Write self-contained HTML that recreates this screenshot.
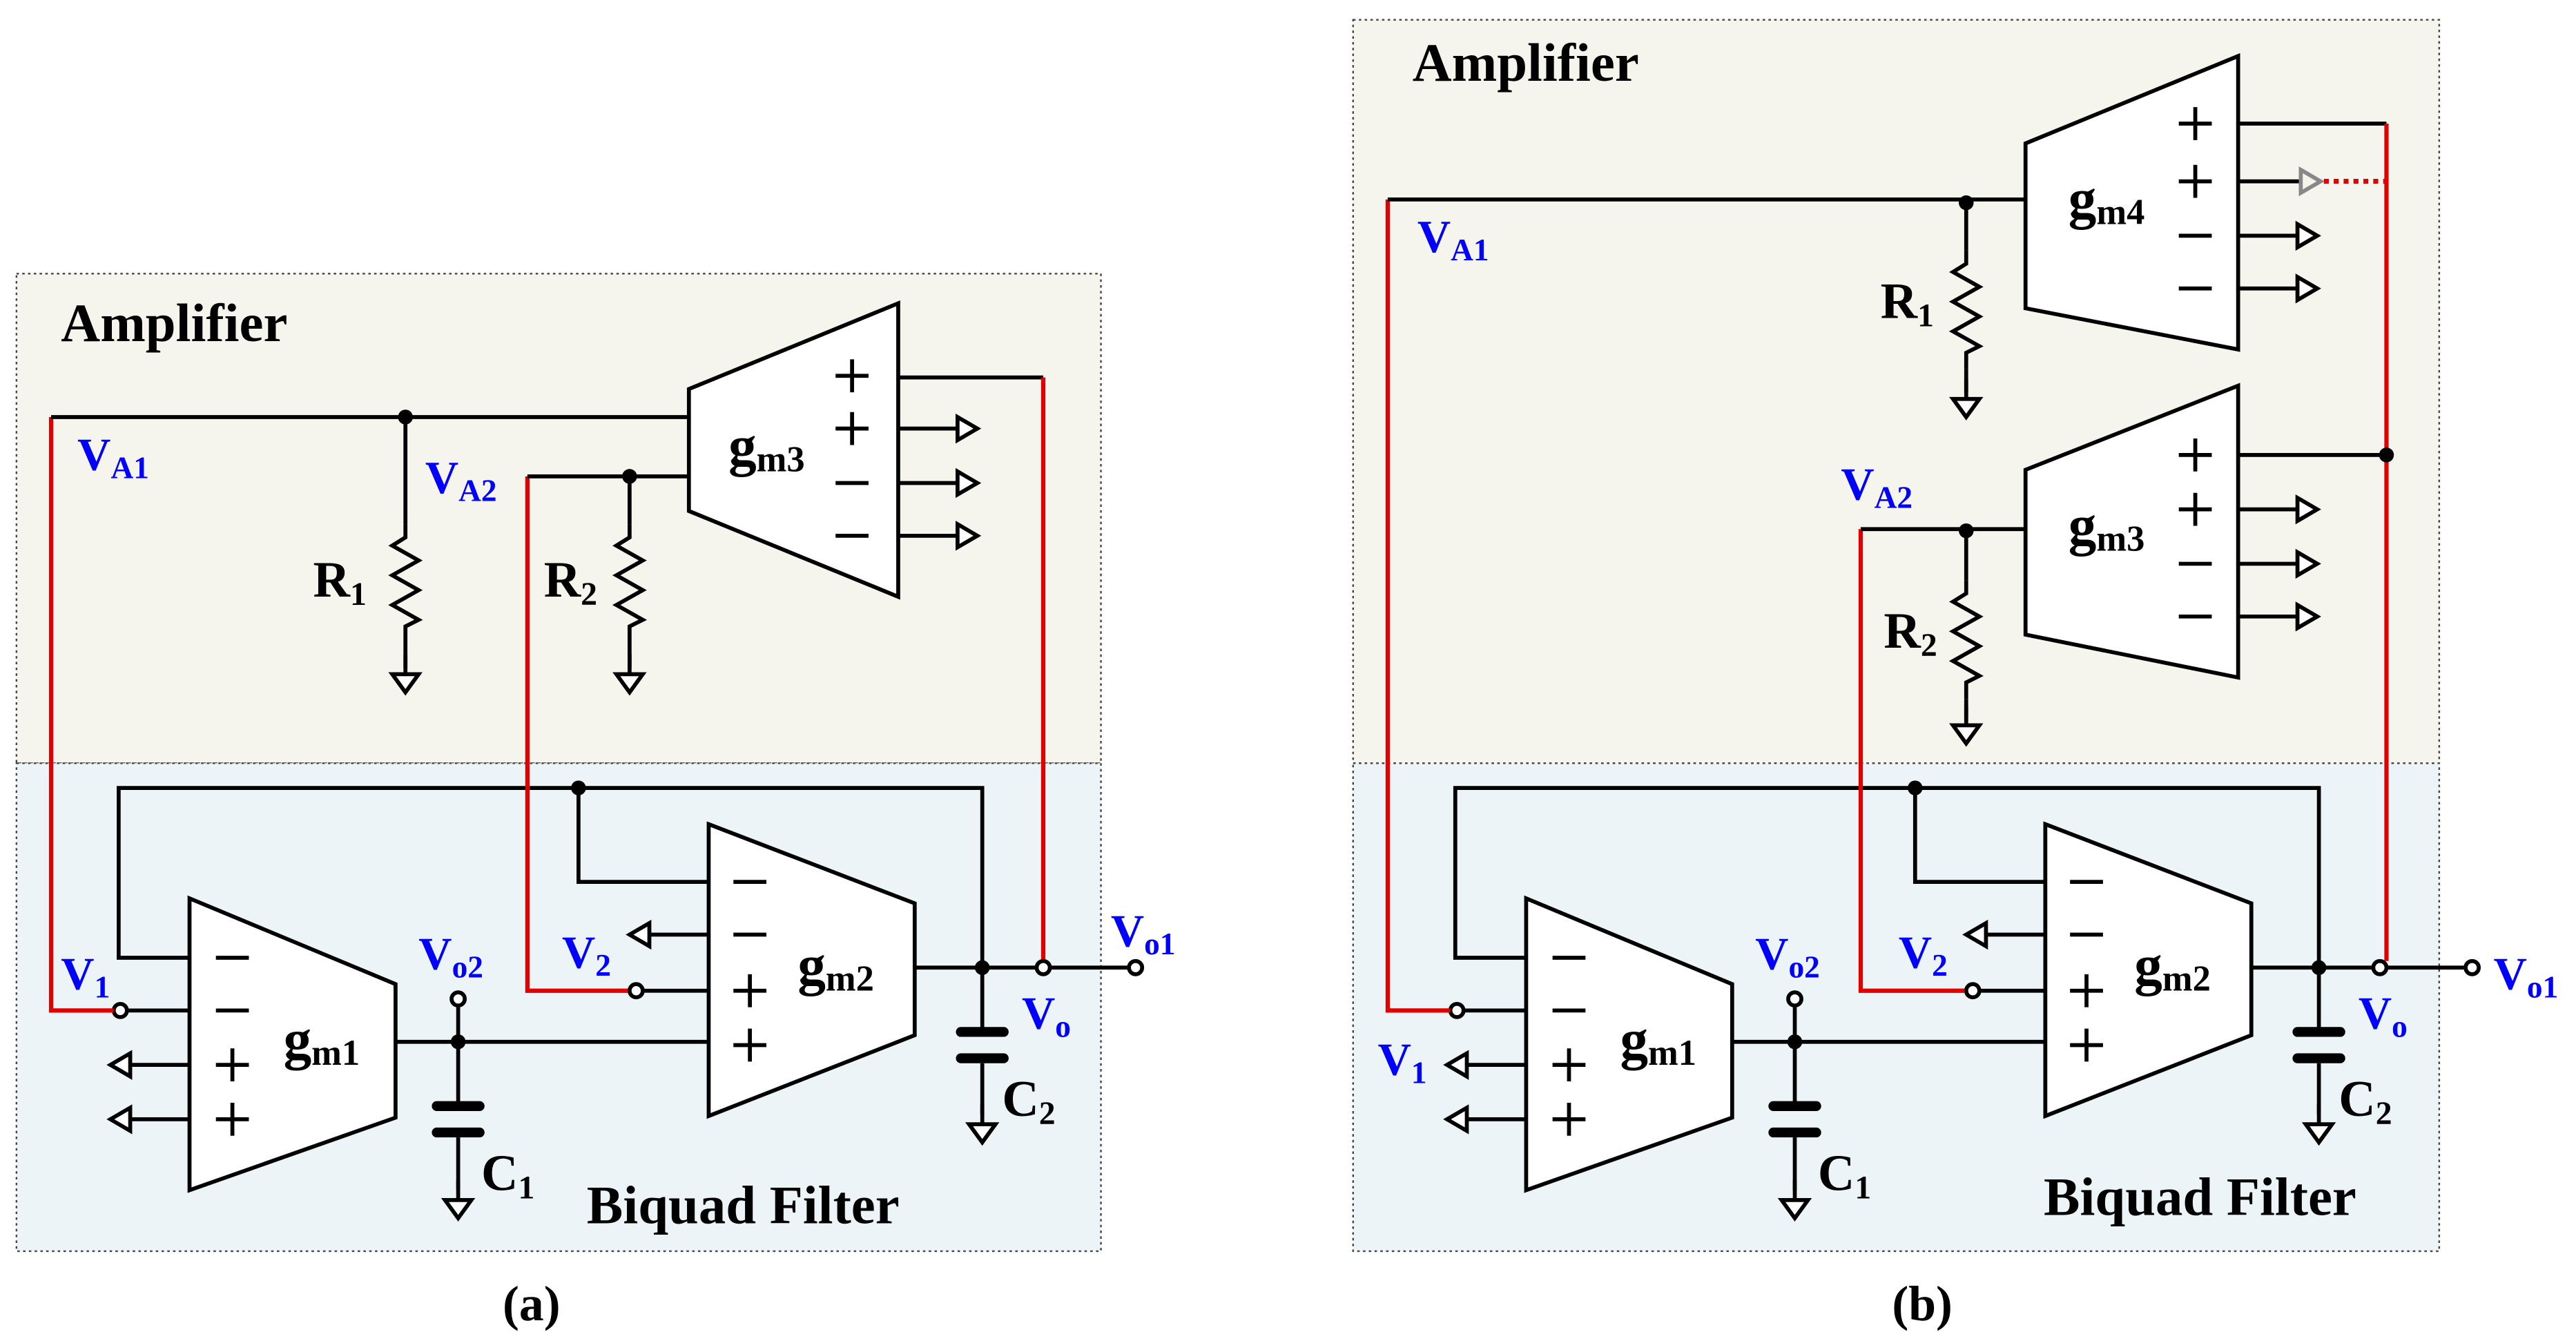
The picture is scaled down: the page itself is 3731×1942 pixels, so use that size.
<!DOCTYPE html>
<html><head><meta charset="utf-8"><style>
html,body{margin:0;padding:0;background:#fff}
svg{display:block}
text{font-family:"Liberation Serif",serif;font-weight:bold}
.w{stroke:#000;stroke-width:2.4;fill:none}
.r{stroke:#e00000;stroke-width:2.6;fill:none}
.o{stroke:#000;stroke-width:2.4;fill:#fff}
.b{fill:#0000ff}
.s{stroke:#000;stroke-width:2.4}
</style></head><body>
<svg width="3731" height="1942" viewBox="0 0 1563 813.5" preserveAspectRatio="none" xmlns="http://www.w3.org/2000/svg">
<defs>
<g id="gnd"><line class="s" x1="0" y1="0" x2="0" y2="-12"/><polygon class="o" points="-8,0 8,0 0,11"/></g>
<g id="res"><polyline class="w" points="0,0 0,8 -8,13 8,22 -8,31 8,40 -8,49 8,58 0,62 0,72"/></g>
<g id="arR"><line class="s" x1="0" y1="0" x2="36" y2="0"/><polygon class="o" points="36,-7 48,0 36,7"/></g>
<g id="arL"><line class="s" x1="0" y1="0" x2="-36" y2="0"/><polygon class="o" points="-36,-7 -48,0 -36,7"/></g>
<g id="pl"><line class="s" x1="-10" y1="0" x2="10" y2="0"/><line class="s" x1="0" y1="-10" x2="0" y2="10"/></g>
<g id="mi"><line class="s" x1="-10" y1="0" x2="10" y2="0"/></g>
</defs>
<rect x="10" y="166" width="658" height="297" fill="#f5f5ee" stroke="#444" stroke-width="1" stroke-dasharray="1.5,2"/>
<rect x="10" y="463" width="658" height="296" fill="#edf4f8" stroke="#444" stroke-width="1" stroke-dasharray="1.5,2"/>
<rect x="821" y="12" width="659" height="451" fill="#f5f5ee" stroke="#444" stroke-width="1" stroke-dasharray="1.5,2"/>
<rect x="821" y="463" width="659" height="296" fill="#edf4f8" stroke="#444" stroke-width="1" stroke-dasharray="1.5,2"/>

<!-- BIQUAD (a) -->
<g>
<polygon class="o" points="115,545 240,597 240,678 115,722" fill="none"/>
<polygon class="o" points="430,500 555,548 555,628 430,677" fill="none"/>
<polyline class="w" points="115,581 72,581 72,478 596,478 596,587"/>
<polyline class="w" points="430,535 351,535 351,478"/>
<circle cx="351" cy="478" r="4.5"/>
<use href="#mi" x="141" y="581"/><use href="#mi" x="141" y="613"/><use href="#pl" x="141" y="646"/><use href="#pl" x="141" y="679"/>
<use href="#mi" x="455" y="535"/><use href="#mi" x="455" y="567"/><use href="#pl" x="455" y="601"/><use href="#pl" x="455" y="634"/>
<use href="#arL" x="115" y="646"/><use href="#arL" x="115" y="679"/>
<use href="#arL" x="430" y="567"/>
<line class="s" x1="115" y1="613" x2="77" y2="613"/><circle class="o" cx="73" cy="613" r="4"/>
<line class="s" x1="430" y1="601" x2="390" y2="601"/>
<line class="s" x1="240" y1="632" x2="430" y2="632"/>
<circle cx="278" cy="632" r="4.5"/>
<line class="s" x1="278" y1="632" x2="278" y2="610"/><circle class="o" cx="278" cy="606" r="4"/>
<line class="s" x1="278" y1="632" x2="278" y2="671"/>
<rect x="262" y="668" width="32" height="6" rx="3"/><rect x="262" y="684" width="32" height="6" rx="3"/>
<line class="s" x1="278" y1="690" x2="278" y2="722"/><use href="#gnd" x="278" y="728"/>
<line class="s" x1="555" y1="587" x2="685" y2="587"/><circle class="o" cx="689" cy="587" r="4"/>
<circle cx="596" cy="587" r="4.5"/>
<line class="s" x1="596" y1="587" x2="596" y2="626"/>
<rect x="580" y="623" width="32" height="6" rx="3"/><rect x="580" y="639" width="32" height="6" rx="3"/>
<line class="s" x1="596" y1="645" x2="596" y2="676"/><use href="#gnd" x="596" y="682"/>
<text x="172" y="642" font-size="34">g<tspan font-size="22" dy="4">m1</tspan></text>
<text x="484" y="597" font-size="34">g<tspan font-size="22" dy="4">m2</tspan></text>
<text x="292" y="722" font-size="31">C<tspan font-size="20" dy="5">1</tspan></text>
<text x="608" y="677" font-size="31">C<tspan font-size="20" dy="5">2</tspan></text>
<text x="356" y="742" font-size="33">Biquad Filter</text>
<text class="b" x="37" y="600" font-size="28">V<tspan font-size="19" dy="5">1</tspan></text>
<text class="b" x="341" y="587" font-size="28">V<tspan font-size="19" dy="5">2</tspan></text>
<text class="b" x="254" y="588" font-size="28">V<tspan font-size="19" dy="5">o2</tspan></text>
<text class="b" x="620" y="624" font-size="28">V<tspan font-size="19" dy="5">o</tspan></text>
<text class="b" x="674" y="574" font-size="28">V<tspan font-size="19" dy="5">o1</tspan></text>
</g>

<!-- BIQUAD (b) -->
<g transform="translate(811,0)">
<polygon class="o" points="115,545 240,597 240,678 115,722" fill="none"/>
<polygon class="o" points="430,500 555,548 555,628 430,677" fill="none"/>
<polyline class="w" points="115,581 72,581 72,478 596,478 596,587"/>
<polyline class="w" points="430,535 351,535 351,478"/>
<circle cx="351" cy="478" r="4.5"/>
<use href="#mi" x="141" y="581"/><use href="#mi" x="141" y="613"/><use href="#pl" x="141" y="646"/><use href="#pl" x="141" y="679"/>
<use href="#mi" x="455" y="535"/><use href="#mi" x="455" y="567"/><use href="#pl" x="455" y="601"/><use href="#pl" x="455" y="634"/>
<use href="#arL" x="115" y="646"/><use href="#arL" x="115" y="679"/>
<use href="#arL" x="430" y="567"/>
<line class="s" x1="115" y1="613" x2="77" y2="613"/><circle class="o" cx="73" cy="613" r="4"/>
<line class="s" x1="430" y1="601" x2="390" y2="601"/>
<line class="s" x1="240" y1="632" x2="430" y2="632"/>
<circle cx="278" cy="632" r="4.5"/>
<line class="s" x1="278" y1="632" x2="278" y2="610"/><circle class="o" cx="278" cy="606" r="4"/>
<line class="s" x1="278" y1="632" x2="278" y2="671"/>
<rect x="262" y="668" width="32" height="6" rx="3"/><rect x="262" y="684" width="32" height="6" rx="3"/>
<line class="s" x1="278" y1="690" x2="278" y2="722"/><use href="#gnd" x="278" y="728"/>
<line class="s" x1="555" y1="587" x2="685" y2="587"/><circle class="o" cx="689" cy="587" r="4"/>
<circle cx="596" cy="587" r="4.5"/>
<line class="s" x1="596" y1="587" x2="596" y2="626"/>
<rect x="580" y="623" width="32" height="6" rx="3"/><rect x="580" y="639" width="32" height="6" rx="3"/>
<line class="s" x1="596" y1="645" x2="596" y2="676"/><use href="#gnd" x="596" y="682"/>
<text x="172" y="642" font-size="34">g<tspan font-size="22" dy="4">m1</tspan></text>
<text x="484" y="597" font-size="34">g<tspan font-size="22" dy="4">m2</tspan></text>
<text x="292" y="722" font-size="31">C<tspan font-size="20" dy="5">1</tspan></text>
<text x="608" y="677" font-size="31">C<tspan font-size="20" dy="5">2</tspan></text>
<text x="429" y="737" font-size="33">Biquad Filter</text>
<text class="b" x="25" y="652" font-size="28">V<tspan font-size="19" dy="5">1</tspan></text>
<text class="b" x="341" y="587" font-size="28">V<tspan font-size="19" dy="5">2</tspan></text>
<text class="b" x="254" y="588" font-size="28">V<tspan font-size="19" dy="5">o2</tspan></text>
<text class="b" x="620" y="624" font-size="28">V<tspan font-size="19" dy="5">o</tspan></text>
<text class="b" x="702" y="600" font-size="28">V<tspan font-size="19" dy="5">o1</tspan></text>
</g>

<!-- AMPLIFIER (a) -->
<text x="37" y="207" font-size="33">Amplifier</text>
<polygon class="o" points="418,236 545,184 545,362 418,310" fill="none"/>
<use href="#pl" x="517" y="228"/><use href="#pl" x="517" y="260"/><use href="#mi" x="517" y="293"/><use href="#mi" x="517" y="325"/>
<polyline class="w" points="545,229 633,229"/>
<use href="#arR" x="545" y="260"/><use href="#arR" x="545" y="293"/><use href="#arR" x="545" y="325"/>
<text x="442" y="282" font-size="34">g<tspan font-size="22" dy="4">m3</tspan></text>
<polyline class="r" points="69,613 31,613 31,253"/>
<line class="s" x1="31" y1="253" x2="418" y2="253"/>
<circle cx="246" cy="253" r="4.5"/>
<line class="s" x1="246" y1="253" x2="246" y2="318"/><use href="#res" x="246" y="318"/><line class="s" x1="246" y1="390" x2="246" y2="405"/><use href="#gnd" x="246" y="409"/>
<polyline class="r" points="382,601 320,601 320,289"/>
<circle class="o" cx="386" cy="601" r="4"/>
<line class="s" x1="320" y1="289" x2="418" y2="289"/>
<circle cx="382" cy="289" r="4.5"/>
<line class="s" x1="382" y1="289" x2="382" y2="318"/><use href="#res" x="382" y="318"/><line class="s" x1="382" y1="390" x2="382" y2="405"/><use href="#gnd" x="382" y="409"/>
<polyline class="r" points="633,229 633,583"/>
<circle class="o" cx="633" cy="587" r="4"/>
<text x="190" y="362" font-size="31">R<tspan font-size="20" dy="5">1</tspan></text>
<text x="330" y="362" font-size="31">R<tspan font-size="20" dy="5">2</tspan></text>
<text class="b" x="47" y="285" font-size="28">V<tspan font-size="19" dy="5">A1</tspan></text>
<text class="b" x="258" y="299" font-size="28">V<tspan font-size="19" dy="5">A2</tspan></text>

<!-- AMPLIFIER (b) -->
<text x="857" y="49" font-size="33">Amplifier</text>
<polygon class="o" points="1229,87 1358,34 1358,212 1229,187" fill="none"/>
<use href="#pl" x="1332" y="75"/><use href="#pl" x="1332" y="110"/><use href="#mi" x="1332" y="143"/><use href="#mi" x="1332" y="175"/>
<text x="1255" y="132" font-size="34">g<tspan font-size="22" dy="4">m4</tspan></text>
<line class="s" x1="1358" y1="75" x2="1448" y2="75"/>
<line x1="1358" y1="110" x2="1396" y2="110" stroke="#000" stroke-width="2.4"/>
<polygon points="1396,103 1408,110 1396,117" fill="none" stroke="#888" stroke-width="2.4"/>
<line x1="1410" y1="110" x2="1448" y2="110" stroke="#e00000" stroke-width="3" stroke-dasharray="3,3"/>
<use href="#arR" x="1358" y="143"/><use href="#arR" x="1358" y="175"/>
<polygon class="o" points="1229,285 1358,234 1358,411 1229,385" fill="none"/>
<use href="#pl" x="1332" y="276"/><use href="#pl" x="1332" y="309"/><use href="#mi" x="1332" y="342"/><use href="#mi" x="1332" y="374"/>
<text x="1255" y="330" font-size="34">g<tspan font-size="22" dy="4">m3</tspan></text>
<line class="s" x1="1358" y1="276" x2="1448" y2="276"/>
<use href="#arR" x="1358" y="309"/><use href="#arR" x="1358" y="342"/><use href="#arR" x="1358" y="374"/>
<polyline class="r" points="1448,75 1448,583"/>
<circle cx="1448" cy="276" r="4.5"/>
<circle class="o" cx="1444" cy="587" r="4"/>
<polyline class="r" points="880,613 842,613 842,121"/>
<line class="s" x1="842" y1="121" x2="1229" y2="121"/>
<circle cx="1193" cy="123" r="4.5"/>
<line class="s" x1="1193" y1="123" x2="1193" y2="152"/><use href="#res" x="1193" y="152"/><line class="s" x1="1193" y1="224" x2="1193" y2="238"/><use href="#gnd" x="1193" y="242"/>
<polyline class="r" points="1193,601 1129,601 1129,321"/>
<circle class="o" cx="1197" cy="601" r="4"/>
<line class="s" x1="1129" y1="321" x2="1229" y2="321"/>
<circle cx="1193" cy="322" r="4.5"/>
<line class="s" x1="1193" y1="322" x2="1193" y2="352"/><use href="#res" x="1193" y="352"/><line class="s" x1="1193" y1="424" x2="1193" y2="436"/><use href="#gnd" x="1193" y="440"/>
<text x="1141" y="193" font-size="31">R<tspan font-size="20" dy="5">1</tspan></text>
<text x="1143" y="393" font-size="31">R<tspan font-size="20" dy="5">2</tspan></text>
<text class="b" x="860" y="153" font-size="28">V<tspan font-size="19" dy="5">A1</tspan></text>
<text class="b" x="1117" y="303" font-size="28">V<tspan font-size="19" dy="5">A2</tspan></text>

<text x="305" y="801" font-size="30">(a)</text>
<text x="1148" y="801" font-size="30">(b)</text>
</svg>
</body></html>
